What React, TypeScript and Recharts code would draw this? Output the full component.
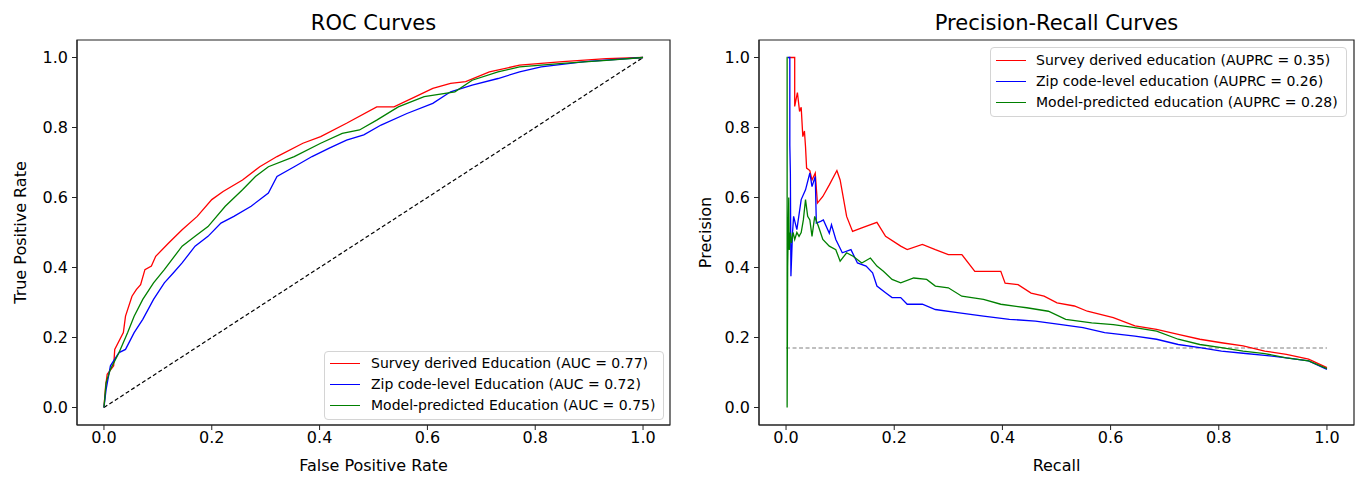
import React from "react";
import { LineChart, Line, XAxis, YAxis, ReferenceArea, Legend } from "recharts";

// shared axis setup
const TICKS = [0, 0.2, 0.4, 0.6, 0.8, 1.0];
const DOMAIN: [number, number] = [-0.05, 1.05];

// ROC curves, [false positive rate, true positive rate]
const rocSurvey = [
  [0, 0], [0.003, 0.06], [0.006, 0.095], [0.018, 0.119], [0.02, 0.166], [0.036, 0.214],
  [0.04, 0.261], [0.052, 0.318], [0.06, 0.337], [0.068, 0.351], [0.076, 0.394], [0.088, 0.404],
  [0.096, 0.432], [0.12, 0.47], [0.145, 0.508], [0.173, 0.546], [0.2, 0.594], [0.221, 0.617],
  [0.257, 0.65], [0.289, 0.688], [0.321, 0.717], [0.369, 0.755], [0.402, 0.774], [0.45, 0.812],
  [0.506, 0.859], [0.538, 0.859], [0.578, 0.888], [0.61, 0.912], [0.643, 0.926], [0.671, 0.931],
  [0.715, 0.959], [0.771, 0.978], [0.851, 0.988], [0.932, 0.997], [1, 1],
];
const rocZip = [
  [0, 0], [0.004, 0.052], [0.012, 0.119], [0.028, 0.157], [0.04, 0.166], [0.056, 0.214],
  [0.072, 0.252], [0.092, 0.309], [0.112, 0.356], [0.129, 0.385], [0.145, 0.413], [0.169, 0.461],
  [0.193, 0.489], [0.217, 0.527], [0.241, 0.546], [0.273, 0.575], [0.305, 0.613], [0.321, 0.66],
  [0.353, 0.688], [0.386, 0.717], [0.418, 0.741], [0.45, 0.764], [0.482, 0.779], [0.514, 0.807],
  [0.562, 0.84], [0.61, 0.869], [0.643, 0.902], [0.683, 0.921], [0.731, 0.94], [0.771, 0.959],
  [0.811, 0.973], [0.892, 0.988], [1, 1],
];
const rocModel = [
  [0, 0], [0.004, 0.071], [0.012, 0.109], [0.028, 0.157], [0.044, 0.214], [0.056, 0.261],
  [0.072, 0.309], [0.092, 0.356], [0.112, 0.394], [0.145, 0.461], [0.169, 0.489], [0.193, 0.517],
  [0.225, 0.575], [0.257, 0.622], [0.281, 0.66], [0.305, 0.688], [0.353, 0.717], [0.402, 0.755],
  [0.442, 0.783], [0.474, 0.793], [0.506, 0.821], [0.546, 0.859], [0.594, 0.888], [0.651, 0.902],
  [0.683, 0.935], [0.731, 0.959], [0.771, 0.973], [0.851, 0.983], [0.932, 0.992], [1, 1],
];
const rocChance = [[0, 0], [1, 1]];

// precision-recall curves, [recall, precision]
const prSurvey = [
  [0.005, 1.0], [0.016, 1.0], [0.016, 0.86], [0.021, 0.9], [0.025, 0.846], [0.028, 0.858],
  [0.031, 0.774], [0.034, 0.79], [0.036, 0.745], [0.038, 0.684], [0.044, 0.677], [0.048, 0.65],
  [0.054, 0.67], [0.058, 0.584], [0.068, 0.603], [0.08, 0.636], [0.094, 0.677], [0.1, 0.65],
  [0.112, 0.546], [0.123, 0.503], [0.14, 0.513], [0.168, 0.529], [0.184, 0.489], [0.212, 0.461],
  [0.224, 0.451], [0.252, 0.466], [0.276, 0.451], [0.3, 0.437], [0.325, 0.437], [0.349, 0.389],
  [0.397, 0.389], [0.405, 0.355], [0.429, 0.351], [0.453, 0.327], [0.477, 0.318], [0.501, 0.299],
  [0.533, 0.29], [0.557, 0.275], [0.605, 0.257], [0.645, 0.233], [0.685, 0.223], [0.725, 0.209],
  [0.765, 0.195], [0.805, 0.185], [0.845, 0.176], [0.885, 0.161], [0.925, 0.152], [0.966, 0.138],
  [1.0, 0.114],
];
const prZip = [
  [0.003, 1.0], [0.007, 1.0], [0.007, 0.75], [0.008, 0.67], [0.009, 0.375], [0.012, 0.5],
  [0.014, 0.546], [0.02, 0.508], [0.028, 0.594], [0.036, 0.622], [0.044, 0.67], [0.048, 0.631],
  [0.054, 0.66], [0.056, 0.527], [0.064, 0.532], [0.069, 0.536], [0.08, 0.498], [0.084, 0.522],
  [0.092, 0.48], [0.104, 0.442], [0.12, 0.451], [0.132, 0.413], [0.148, 0.404], [0.16, 0.385],
  [0.168, 0.347], [0.184, 0.328], [0.196, 0.314], [0.212, 0.314], [0.224, 0.295], [0.252, 0.295],
  [0.276, 0.28], [0.317, 0.271], [0.365, 0.261], [0.413, 0.252], [0.461, 0.247], [0.509, 0.237],
  [0.549, 0.228], [0.589, 0.214], [0.645, 0.204], [0.685, 0.195], [0.725, 0.18], [0.765, 0.171],
  [0.805, 0.161], [0.845, 0.155], [0.885, 0.149], [0.925, 0.142], [0.966, 0.133], [1.0, 0.109],
];
const prModel = [
  [0.001, 1.0], [0.002, 1.0], [0.002, 0.0], [0.003, 0.4], [0.005, 0.6], [0.006, 0.45],
  [0.008, 0.5], [0.01, 0.47], [0.013, 0.5], [0.016, 0.48], [0.02, 0.5], [0.024, 0.489],
  [0.028, 0.5], [0.032, 0.536], [0.036, 0.594], [0.04, 0.546], [0.044, 0.536], [0.048, 0.489],
  [0.053, 0.546], [0.06, 0.517], [0.068, 0.48], [0.08, 0.461], [0.092, 0.451], [0.1, 0.418],
  [0.112, 0.442], [0.124, 0.432], [0.14, 0.413], [0.156, 0.427], [0.168, 0.404], [0.18, 0.389],
  [0.196, 0.366], [0.212, 0.356], [0.236, 0.37], [0.26, 0.366], [0.276, 0.347], [0.3, 0.342],
  [0.325, 0.318], [0.365, 0.309], [0.397, 0.295], [0.445, 0.285], [0.485, 0.275], [0.517, 0.252],
  [0.565, 0.242], [0.605, 0.237], [0.645, 0.228], [0.685, 0.218], [0.725, 0.195], [0.765, 0.18],
  [0.805, 0.171], [0.845, 0.161], [0.885, 0.154], [0.925, 0.142], [0.966, 0.133], [1.0, 0.111],
];
const prBaseline = [[0, 0.17], [1, 0.17]];

const rocNames = [
  "Survey derived Education (AUC = 0.77)",
  "Zip code-level Education (AUC = 0.72)",
  "Model-predicted Education (AUC = 0.75)",
];
const prNames = [
  "Survey derived education (AUPRC = 0.35)",
  "Zip code-level education (AUPRC = 0.26)",
  "Model-predicted education (AUPRC = 0.28)",
];
const COLORS = ["#ff0000", "#0000ff", "#008000"];

const pts = (arr: number[][]) => arr.map(([x, y]) => ({ x, y }));
const fmt = (v: number) => v.toFixed(1);
const INK = "#222";

// rotated y title, drawn at fixed x inside the chart
const yTitle = (text: string, cx: number) => () => {
  const cy = 232.5;
  return (
    <text x={cx} y={cy} transform={`rotate(-90 ${cx} ${cy})`} textAnchor="middle"
      dominantBaseline="central" fontSize={16} fill="#000">
      {text}
    </text>
  );
};

// matplotlib-like legend box, built from the names/colours lists
const legendBox = (names: string[], lineGap: number, padTop: number) => () => (
  <div style={{
    border: "1px solid #d4d4d4", borderRadius: 4, background: "#fff",
    padding: `${padTop}px 6px 3px 5px`, fontSize: 14, color: "#000", lineHeight: "21px",
  }}>
    {names.map((n, i) => (
      <div key={n} style={{ display: "flex", alignItems: "center", height: 21, whiteSpace: "nowrap" }}>
        <span style={{ width: 30, borderTop: `1.5px solid ${COLORS[i]}`, marginRight: lineGap }} />
        <span>{n}</span>
      </div>
    ))}
  </div>
);

function Panel(props: {
  width: number; marginLeft: number; marginRight: number; yWidth: number;
  title: string; xTitle: string; yTitleText: string; yTitleX: number;
  series: number[][][]; names: string[]; ref0: number[][]; refColor: string;
  legendPos: { left: number; top: number; width: number }; lineGap: number; padTop: number;
}) {
  return (
    <LineChart width={props.width} height={478}
      margin={{ top: 40, right: props.marginRight, bottom: 3, left: props.marginLeft }}>
      <XAxis dataKey="x" type="number" domain={DOMAIN} ticks={TICKS} tickFormatter={fmt}
        allowDataOverflow height={50} tickSize={5} tickMargin={2}
        stroke={INK} tick={{ fill: "#000", fontSize: 16 }}
        label={{ value: props.xTitle, position: "insideBottom", offset: 4, fontSize: 16, fill: "#000" }} />
      <YAxis dataKey="y" type="number" domain={DOMAIN} ticks={TICKS} tickFormatter={fmt}
        allowDataOverflow width={props.yWidth} tickSize={5} tickMargin={4}
        stroke={INK} tick={{ fill: "#000", fontSize: 16 }}
        label={{ value: props.yTitleText, content: yTitle(props.yTitleText, props.yTitleX) }} />
      <ReferenceArea x1={-0.05} x2={1.05} y1={-0.05} y2={1.05} fill="none" fillOpacity={0}
        stroke={INK} strokeWidth={1.2}
        label={{ value: props.title, position: "top", offset: 10, fontSize: 21, fill: "#000" }} />
      <Line data={pts(props.ref0)} dataKey="y" stroke={props.refColor} strokeWidth={1.2}
        strokeDasharray="4 2.5" dot={false} legendType="none" isAnimationActive={false} />
      {props.series.map((s, i) => (
        <Line key={props.names[i]} data={pts(s)} dataKey="y" name={props.names[i]} stroke={COLORS[i]}
          strokeWidth={1.3} dot={false} type="linear" isAnimationActive={false} />
      ))}
      <Legend layout="vertical" align="center" verticalAlign="middle"
        wrapperStyle={{ left: props.legendPos.left, top: props.legendPos.top, width: props.legendPos.width }}
        content={legendBox(props.names, props.lineGap, props.padTop)} />
    </LineChart>
  );
}

export default function App() {
  return (
    <div style={{ position: "absolute", left: 0, top: 0, width: 1359, height: 478, display: "flex",
      fontFamily: "'DejaVu Sans', sans-serif", background: "#fff" }}>
      <Panel width={680} marginLeft={5} marginRight={10} yWidth={72}
        title="ROC Curves" xTitle="False Positive Rate" yTitleText="True Positive Rate" yTitleX={20}
        series={[rocSurvey, rocZip, rocModel]} names={rocNames} ref0={rocChance} refColor="#000"
        legendPos={{ left: 324, top: 351, width: 340 }} lineGap={11} padTop={1} />
      <Panel width={679} marginLeft={5} marginRight={5} yWidth={74}
        title="Precision-Recall Curves" xTitle="Recall" yTitleText="Precision" yTitleX={25}
        series={[prSurvey, prZip, prModel]} names={prNames} ref0={prBaseline} refColor="#808080"
        legendPos={{ left: 310, top: 47, width: 357 }} lineGap={10} padTop={2} />
    </div>
  );
}
